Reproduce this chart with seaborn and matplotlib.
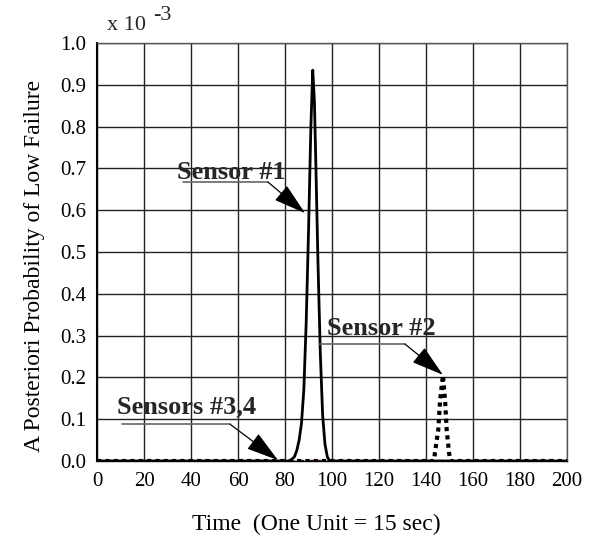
import matplotlib
matplotlib.use("Agg")
import matplotlib.pyplot as plt
import seaborn as sns
import pandas as pd

# Data (values in units of 1e-3)
t_s1 = [0, 82, 84, 85, 86, 87, 88, 89, 90, 91, 91.8, 92.5, 93, 94, 95, 96, 97, 98, 99, 200]
v_s1 = [0, 0, 0.01, 0.025, 0.05, 0.09, 0.17, 0.33, 0.55, 0.80, 0.935, 0.86, 0.74, 0.48, 0.26, 0.11, 0.04, 0.01, 0, 0]

t_s2 = [0, 143.4, 143.8, 145.2, 146.0, 147.2, 148.1, 148.8, 149.8, 150.3, 200]
v_s2 = [0, 0, 0.02, 0.074, 0.146, 0.205, 0.146, 0.074, 0.02, 0, 0]

t_s34 = [0, 200]
v_s34 = [0, 0]

x_ticks = list(range(0, 201, 20))
y_ticks = [round(0.1 * i, 1) for i in range(11)]

sns.set_theme(style="white")
plt.rcParams['font.family'] = ['Liberation Serif', 'DejaVu Serif']

fig = plt.figure(figsize=(5.99, 5.40), dpi=100)
ax = fig.add_axes([0.162, 0.1463, 0.7846, 0.7741])

df1 = pd.DataFrame({"t": t_s1, "v": v_s1})
df2 = pd.DataFrame({"t": t_s2, "v": v_s2})
df3 = pd.DataFrame({"t": t_s34, "v": v_s34})

sns.lineplot(data=df3, x="t", y="v", ax=ax, color="#3a0a3a", lw=2.4,
             linestyle=(0, (2, 1)), zorder=3)
sns.lineplot(data=df1, x="t", y="v", ax=ax, color="black", lw=2.0, zorder=4)
sns.lineplot(data=df2, x="t", y="v", ax=ax, color="black", lw=3.0,
             linestyle=(0, (1, 1)), zorder=4)

ax.set_xlim(0, 200)
ax.set_ylim(0, 1.0)
ax.set_xticks(x_ticks)
ax.set_yticks(y_ticks)
ax.set_xticklabels([str(x) for x in x_ticks])
ax.set_yticklabels([f"{y:.1f}" for y in y_ticks])
ax.tick_params(axis='both', length=0, labelsize=15, colors='black', pad=8)
ax.grid(True, color='#222222', lw=1.0)
ax.set_axisbelow(True)
for s in ax.spines.values():
    s.set_color('#555555')
    s.set_linewidth(1.0)
ax.spines['left'].set_color('black')
ax.spines['left'].set_linewidth(1.5)
ax.spines['bottom'].set_color('black')

ax.set_xlabel("Time  (One Unit = 15 sec)", fontsize=17, color='black')
ax.set_ylabel("A Posteriori Probability of Low Failure", fontsize=17, color='black')
ax.xaxis.set_label_coords(0.466, -0.152)
ax.yaxis.set_label_coords(-0.134, 0.466)
ax.xaxis.label.set_va('center')
ax.yaxis.label.set_va('center')

fig.text(0.1786, 0.9444, "x 10", fontsize=16, ha='left', va='baseline')
fig.text(0.2554, 0.963, "-3", fontsize=16, ha='left', va='baseline')

# annotations
def annot(label, tx, ty, ux0, ux1, uy, tipx, tipy):
    ax.text(tx, ty, label, fontsize=19, fontweight='bold', ha='left', va='center', zorder=6)
    ax.plot([ux0, ux1], [uy, uy], color='#666666', lw=1.2, zorder=5)
    ax.annotate("", xy=(tipx, tipy), xytext=(ux1, uy),
                arrowprops=dict(arrowstyle="-|>,head_length=1.7,head_width=0.5",
                                color='black', lw=0.9, shrinkA=0, shrinkB=0), zorder=6)

annot("Sensor #1", 34.0, 0.691, 36.6, 72.8, 0.667, 88.5, 0.593)
annot("Sensor #2", 97.9, 0.318, 94.5, 131.0, 0.28, 147.2, 0.206)
annot("Sensors #3,4", 8.5, 0.129, 10.6, 56.6, 0.088, 77.0, 0.002)

fig.savefig("out.png", dpi=100, facecolor='white')
